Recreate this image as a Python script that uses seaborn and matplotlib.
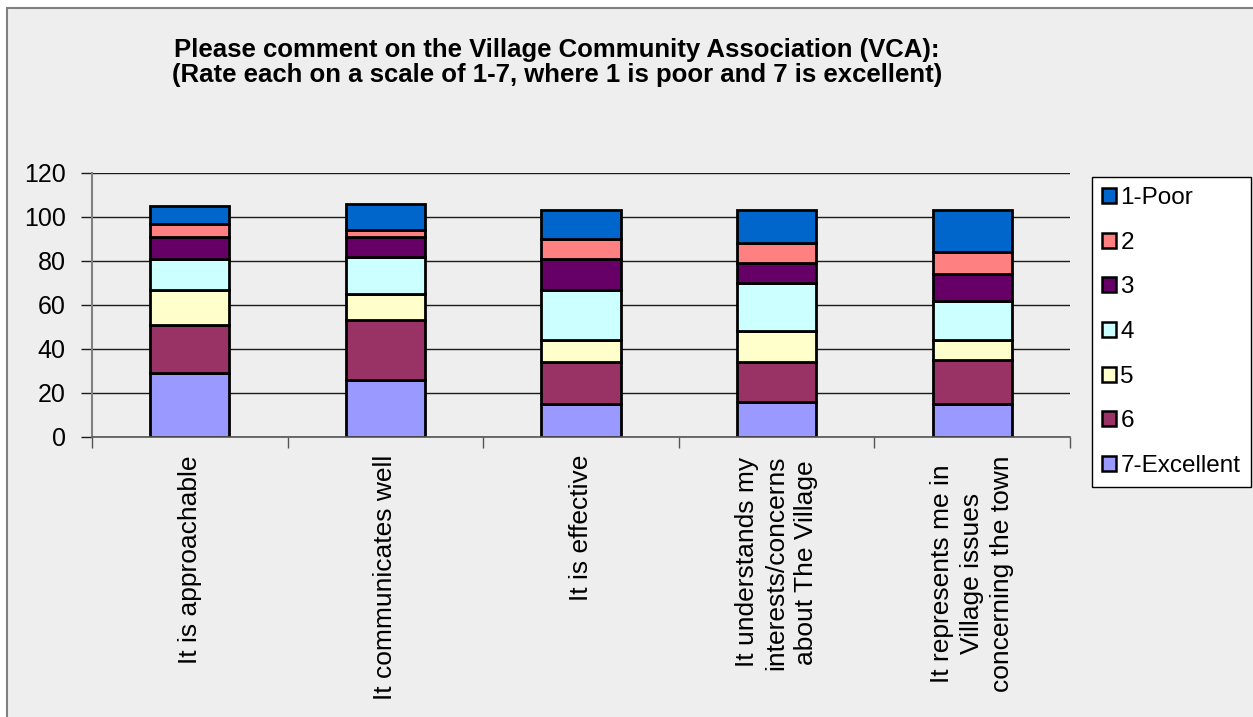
import matplotlib
matplotlib.use("Agg")
import matplotlib.pyplot as plt
from matplotlib.patches import Patch, Rectangle
import pandas as pd
import seaborn as sns

# Survey statements (x categories)
statements = [
    "It is approachable",
    "It communicates well",
    "It is effective",
    "It understands my\ninterests/concerns\nabout The Village",
    "It represents me in\nVillage issues\nconcerning the town",
]

# Rating levels, top of stack first
levels = ["1-Poor", "2", "3", "4", "5", "6", "7-Excellent"]

# Number of responses per rating, one value per statement
poor = [8, 12, 13, 15, 19]
r2 = [6, 3, 9, 9, 10]
r3 = [10, 9, 14, 9, 12]
r4 = [14, 17, 23, 22, 18]
r5 = [16, 12, 10, 14, 9]
r6 = [22, 27, 19, 18, 20]
excellent = [29, 26, 15, 16, 15]

colors = ["#0066CC", "#FF8080", "#660066", "#CCFFFF", "#FFFFCC", "#993366", "#9999FF"]

series = [poor, r2, r3, r4, r5, r6, excellent]
rows = []
for lvl, vals in zip(levels, series):
    for st, v in zip(statements, vals):
        rows.append({"statement": st, "rating": lvl, "count": v})
df = pd.DataFrame(rows)

plt.rcParams["font.family"] = ["Liberation Sans", "DejaVu Sans"]

W, H = 1253, 717
fig = plt.figure(figsize=(W / 100, H / 100), dpi=100)
fig.patch.set_facecolor("white")

# chart area panel with grey frame on top/left
fig.patches.append(Rectangle((7 / W, -0.05), 1.2, (H - 8) / H + 0.05,
                             transform=fig.transFigure, facecolor="#EEEEEE",
                             edgecolor="#808080", linewidth=1.5, zorder=-10))

ax = fig.add_axes([92 / W, 1 - 437 / H, (1070 - 92) / W, (437 - 173) / H])
ax.set_facecolor("#EEEEEE")
ax.patch.set_alpha(0)

sns.histplot(data=df, x="statement", weights="count", hue="rating",
             hue_order=levels, palette=dict(zip(levels, colors)),
             multiple="stack", discrete=True, shrink=0.405, alpha=1,
             edgecolor="black", linewidth=2.0, legend=False, ax=ax)

ax.set_xlim(-0.5, 4.5)
ax.set_ylim(0, 120)
ax.set_yticks(range(0, 121, 20))
ax.set_axisbelow(True)
ax.yaxis.grid(True, color="#1a1a1a", linewidth=1.0)
ax.xaxis.grid(False)
ax.set_xlabel("")
ax.set_ylabel("")

for s in ["top", "right"]:
    ax.spines[s].set_visible(False)
ax.spines["left"].set_color("#808080")
ax.spines["left"].set_linewidth(1.5)
ax.spines["bottom"].set_color("#555555")
ax.spines["bottom"].set_linewidth(1.2)

ax.tick_params(axis="y", length=8, width=1, color="#1a1a1a", pad=11, labelsize=18)
ax.set_xticks(range(len(statements)))
ax.set_xticklabels(statements, rotation=90, ha="center", va="top",
                   multialignment="center", fontsize=19, linespacing=1.3)
ax.tick_params(axis="x", which="major", length=0, pad=13)
ax.set_xticks([i - 0.5 for i in range(len(statements) + 1)], minor=True)
ax.tick_params(axis="x", which="minor", length=8, width=1, color="#555555")

fig.text(557 / W, 1 - 38 / H,
         "Please comment on the Village Community Association (VCA):\n"
         "(Rate each on a scale of 1-7, where 1 is poor and 7 is excellent)",
         ha="center", va="top", fontsize=18.5, fontweight="bold", linespacing=1.05)

handles = [Patch(facecolor=c, edgecolor="black", linewidth=1.8) for c in colors]
leg = fig.legend(handles, levels, loc="upper left",
                 bbox_to_anchor=(1092 / W, 1 - 177 / H), bbox_transform=fig.transFigure,
                 fontsize=17.5, frameon=True, fancybox=False, framealpha=1,
                 edgecolor="black", facecolor="white", borderaxespad=0,
                 borderpad=0.42, labelspacing=0.93, handlelength=0.57,
                 handleheight=0.57, handletextpad=0.18)
leg.get_frame().set_linewidth(1.0)

fig.savefig("out.png", dpi=100)
